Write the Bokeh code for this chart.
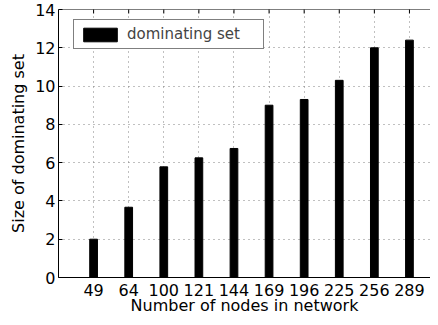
import math
from bokeh.plotting import figure
from bokeh.models import (Range1d, FixedTicker, Legend, LegendItem,
                          ColumnDataSource, Span)
from bokeh.embed import file_html
from bokeh.resources import INLINE

categories = ["49", "64", "100", "121", "144", "169", "196", "225", "256", "289"]
dominating_set = [2.0, 3.67, 5.78, 6.25, 6.74, 9.0, 9.3, 10.3, 12.0, 12.4]
y_ticks = [0, 2, 4, 6, 8, 10, 12, 14]
Y_MAX = 14

FONT = "DejaVu Sans"
FS = "16px"

xpos = list(range(1, len(categories) + 1))
src = ColumnDataSource(dict(x=xpos, top=dominating_set))

p = figure(width=430, height=317, output_backend="svg", toolbar_location=None,
           x_range=Range1d(0, len(categories) + 0.6), y_range=Range1d(0, Y_MAX),
           min_border_left=58, min_border_right=0, min_border_top=9,
           min_border_bottom=40)
p.outline_line_color = None
p.background_fill_color = "white"
p.border_fill_color = "white"

# grid
for g in [p.xgrid[0], p.ygrid[0]]:
    g.grid_line_color = "#808080"
    g.grid_line_dash = "1 4"
    g.grid_line_width = 1

r = p.vbar(x="x", top="top", width=0.22, source=src,
           fill_color="black", line_color="black")

# axes
p.xaxis.ticker = FixedTicker(ticks=xpos)
p.xaxis.major_label_overrides = {i: c for i, c in zip(xpos, categories)}
p.yaxis.ticker = FixedTicker(ticks=y_ticks)
p.ygrid.ticker = FixedTicker(ticks=y_ticks)
p.xaxis.axis_label = "Number of nodes in network"
p.yaxis.axis_label = "Size of dominating set"

for ax in [p.xaxis[0], p.yaxis[0]]:
    ax.major_tick_in = 4
    ax.major_tick_out = 0
    ax.minor_tick_line_color = None
    ax.axis_line_color = "black"
    ax.major_tick_line_color = "black"
    ax.major_label_text_font = FONT
    ax.major_label_text_font_size = FS
    ax.major_label_text_color = "black"
    ax.axis_label_text_font = FONT
    ax.axis_label_text_font_size = FS
    ax.axis_label_text_font_style = "normal"
    ax.axis_label_text_color = "black"
p.xaxis.major_label_standoff = 6
p.xaxis.axis_label_standoff = -3
p.yaxis.major_label_standoff = 3
p.yaxis.axis_label_standoff = 4

# top border with inward ticks
p.add_layout(Span(location=Y_MAX, dimension="width", line_color="black", line_width=1))
p.scatter(x=xpos, y=[Y_MAX] * len(xpos), marker="dash", angle=math.pi / 2,
          size=8, line_color="black", line_width=1)

legend = Legend(items=[LegendItem(label="dominating set", renderers=[r])],
                location=(15, 228), border_line_color="black", border_line_width=1,
                padding=5, glyph_width=42, glyph_height=17, label_standoff=6,
                label_width=131, label_text_font=FONT, label_text_font_size="15px",
                margin=0, background_fill_color="white", background_fill_alpha=1)
p.add_layout(legend)

open("out.html", "w").write(file_html(p, INLINE))
